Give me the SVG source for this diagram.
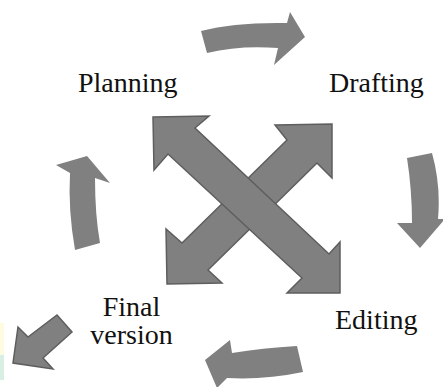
<svg xmlns="http://www.w3.org/2000/svg" width="443" height="387" viewBox="0 0 443 387">
<style>
.lbl{font-size:28px;fill:#111;font-family:'DejaVu Serif','Liberation Serif','Times New Roman',Times,serif;}
.cx{fill:#808080;stroke:#5e5e5e;stroke-width:1.5;stroke-linejoin:miter;}
.cv{fill:#808080;stroke:none;}
</style>
<rect x="0" y="0" width="443" height="387" fill="#ffffff"/>
<rect x="0" y="323" width="4" height="32" fill="#fdfbe0"/>
<rect x="0" y="355" width="4" height="25" fill="#d9efe3"/>
<g id="connectors">
<path class="cv" d="M201,31 Q235,22 287,23 L290,12 L305,37 L274,65 L278,48 Q240,45 207,53 Z"/>
<path class="cv" d="M407,158 L432,153 Q441,185 438,219 L445,219 L420,248 L397,223 L412,223 Q412,190 407,158 Z"/>
<path class="cv" d="M297,346 Q262,348 232,353 L230,340 L205,360 L217,388 L227,378 Q265,380 303,372 Z"/>
<path class="cv" d="M75,250 Q68,210 70,173 L56,165 L87,156 L110,183 L95,178 Q95,215 100,243 Z"/>
<polygon class="cx" points="275,125 332,124 332,178 317,163 208,270 222,283 167,284 166,229 182,243 287,140"/>
<polygon class="cx" points="153,117 209,116 195,128 329,254 340,242 340,293 287,293 302,278 168,154 154,170"/>
<polygon class="cx" points="13,363 18,327 28,337 57,315 72,332 43,358 53,369"/>
</g>
<g id="planning"><text class="lbl" style="font-family:'Liberation Serif',serif" x="78" y="92">Planning</text></g>
<g id="drafting"><text class="lbl" style="font-family:'Liberation Serif',serif" x="329" y="92">Drafting</text></g>
<g id="editing"><text class="lbl" style="font-family:'Liberation Serif',serif" x="335" y="329">Editing</text></g>
<g id="final-version"><text class="lbl" style="font-family:'Liberation Serif',serif" text-anchor="middle"><tspan x="131.5" y="316">Final</tspan><tspan x="131.5" y="344">version</tspan></text></g>
</svg>
